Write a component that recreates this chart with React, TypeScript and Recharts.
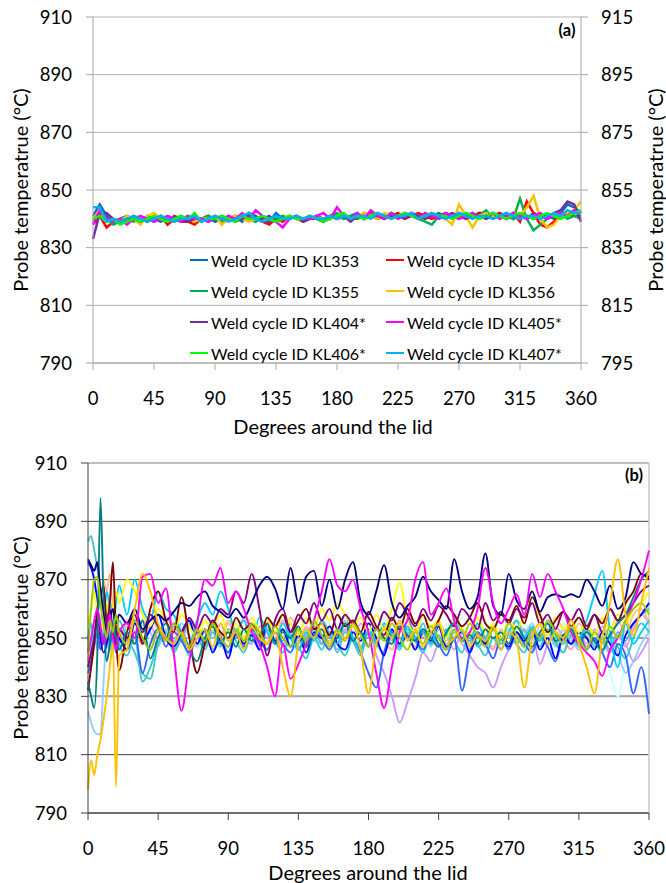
import React from 'react'
import { LineChart, Line, XAxis, YAxis, CartesianGrid, ReferenceLine } from 'recharts'

const FONT = 'Lato, "Open Sans", sans-serif'

// degrees around the lid
const degreesA = [
  0, 5, 10, 15, 20, 25, 30, 35, 40, 45, 50, 55, 60, 65, 70, 75, 80, 85, 90, 95,
  100, 105, 110, 115, 120, 125, 130, 135, 140, 145, 150, 155, 160, 165, 170, 175,
  180, 185, 190, 195, 200, 205, 210, 215, 220, 225, 230, 235, 240, 245, 250, 255,
  260, 265, 270, 275, 280, 285, 290, 295, 300, 305, 310, 315, 320, 325, 330, 335,
  340, 345, 350, 355, 360,
]
const degreesB = [
  0, 2, 4, 6, 8, 10, 12, 14, 16, 18, 20, 25, 30, 35, 40, 45, 50, 55, 60, 65, 70,
  75, 80, 85, 90, 95, 100, 105, 110, 115, 120, 125, 130, 135, 140, 145, 150, 155,
  160, 165, 170, 175, 180, 185, 190, 195, 200, 205, 210, 215, 220, 225, 230, 235,
  240, 245, 250, 255, 260, 265, 270, 275, 280, 285, 290, 295, 300, 305, 310, 315,
  320, 325, 330, 335, 340, 345, 350, 355, 360,
]

const xTicks = [0, 45, 90, 135, 180, 225, 270, 315, 360]
const leftTicks = [790, 810, 830, 850, 870, 890, 910]
const rightTicks = [795, 815, 835, 855, 875, 895, 915]

// panel (a): probe temperature, one value per 5 degrees
const kl353 = [
  841, 845, 841, 839, 840, 841, 840, 839, 841, 840,
  839, 840, 840, 841, 839, 840, 840, 841, 839, 840,
  840, 841, 839, 842, 841, 839, 839, 842, 840, 841,
  840, 839, 840, 841, 840, 841, 841, 840, 841, 842,
  840, 841, 841, 840, 842, 841, 841, 842, 840, 841,
  841, 842, 841, 840, 842, 841, 841, 842, 840, 841,
  842, 841, 840, 841, 840, 842, 841, 841, 840, 842,
  845, 844, 842,
]
const kl354 = [
  838, 841, 837, 839, 840, 839, 841, 840, 839, 840,
  841, 838, 840, 839, 839, 838, 840, 841, 840, 839,
  840, 841, 840, 841, 840, 839, 838, 840, 839, 841,
  840, 840, 841, 840, 839, 841, 840, 841, 840, 840,
  842, 841, 840, 841, 841, 842, 840, 841, 842, 841,
  840, 841, 842, 841, 840, 842, 841, 842, 842, 841,
  842, 840, 842, 839, 846, 842, 838, 837, 839, 841,
  842, 841, 841,
]
const kl355 = [
  839, 842, 840, 838, 839, 840, 839, 840, 840, 839,
  841, 840, 839, 840, 841, 839, 840, 841, 840, 839,
  841, 840, 841, 840, 839, 841, 840, 840, 841, 840,
  841, 840, 840, 841, 840, 841, 842, 840, 841, 840,
  841, 842, 840, 841, 842, 841, 842, 841, 840, 839,
  838, 841, 842, 841, 842, 841, 842, 841, 843, 840,
  841, 842, 840, 847, 840, 836, 838, 840, 841, 842,
  840, 841, 840,
]
const kl356 = [
  840, 843, 839, 840, 839, 841, 840, 838, 841, 842,
  840, 839, 841, 840, 840, 839, 840, 840, 841, 838,
  840, 841, 840, 839, 840, 841, 840, 839, 840, 841,
  840, 839, 841, 840, 840, 841, 840, 841, 840, 841,
  842, 841, 840, 842, 841, 840, 841, 842, 841, 840,
  842, 841, 840, 838, 845, 841, 837, 841, 842, 841,
  841, 840, 842, 841, 844, 848, 840, 837, 838, 841,
  842, 843, 846,
]
const kl404 = [
  833, 842, 842, 840, 839, 840, 840, 839, 840, 840,
  841, 839, 841, 840, 839, 840, 840, 839, 840, 841,
  840, 839, 840, 841, 840, 840, 841, 839, 840, 840,
  841, 839, 840, 840, 839, 841, 840, 841, 839, 841,
  840, 841, 841, 840, 841, 841, 840, 842, 841, 840,
  841, 840, 841, 842, 841, 840, 841, 841, 840, 842,
  841, 840, 841, 840, 841, 840, 841, 840, 842, 843,
  846, 845, 839,
]
const kl405 = [
  838, 843, 840, 839, 840, 838, 840, 841, 840, 839,
  840, 841, 840, 839, 841, 840, 840, 839, 841, 840,
  841, 840, 842, 840, 843, 841, 840, 839, 837, 840,
  841, 840, 840, 841, 842, 840, 844, 841, 840, 842,
  840, 843, 841, 840, 842, 840, 842, 841, 840, 842,
  841, 840, 842, 841, 840, 841, 842, 840, 841, 842,
  840, 841, 842, 841, 840, 841, 842, 840, 841, 842,
  841, 843, 842,
]
const kl406 = [
  840, 841, 839, 840, 838, 839, 840, 839, 840, 841,
  840, 839, 840, 841, 840, 842, 839, 840, 840, 841,
  840, 839, 841, 840, 840, 841, 840, 839, 840, 841,
  840, 840, 841, 840, 839, 840, 841, 842, 840, 841,
  840, 841, 842, 841, 840, 841, 842, 841, 840, 841,
  842, 841, 841, 840, 841, 842, 841, 840, 841, 842,
  841, 840, 841, 842, 841, 840, 841, 842, 841, 840,
  841, 842, 843,
]
const kl407 = [
  844, 844, 839, 840, 839, 840, 841, 840, 839, 840,
  841, 840, 839, 840, 840, 841, 839, 840, 841, 840,
  839, 840, 841, 842, 840, 839, 840, 841, 840, 840,
  841, 840, 841, 840, 840, 841, 840, 841, 840, 841,
  841, 840, 842, 841, 840, 841, 841, 842, 840, 841,
  842, 841, 840, 841, 842, 841, 840, 841, 841, 840,
  841, 842, 841, 840, 841, 841, 840, 841, 842, 841,
  843, 842, 842,
]

// panel (b): all weld cycles
const bNavy = [
  877, 875, 873, 876, 866, 858, 852, 856, 860, 855,
  858, 855, 860, 853, 856, 858, 856, 859, 862, 861,
  864, 866, 861, 859, 857, 860, 857, 862, 868, 871,
  867, 860, 874, 862, 871, 873, 861, 870, 860, 870,
  876, 862, 858, 866, 875, 862, 857, 861, 864, 871,
  866, 863, 860, 877, 866, 860, 864, 879, 861, 858,
  872, 863, 860, 866, 859, 864, 865, 864, 865, 864,
  870, 866, 861, 868, 860, 864, 876, 872, 871,
]
const bMagenta = [
  845, 850, 856, 860, 854, 848, 852, 858, 850, 846,
  852, 855, 850, 871, 872, 862, 867, 845, 825, 842,
  855, 870, 868, 874, 862, 866, 860, 852, 848, 840,
  830, 848, 836, 841, 848, 856, 866, 877, 868, 866,
  870, 860, 852, 838, 826, 840, 852, 856, 870, 876,
  858, 862, 867, 856, 850, 852, 860, 874, 862, 855,
  860, 865, 858, 872, 864, 872, 866, 860, 852, 848,
  845, 842, 837, 846, 850, 856, 862, 870, 880,
]
const bGold = [
  798, 808, 803, 810, 815, 822, 830, 840, 848, 799,
  844, 846, 860, 872, 866, 855, 850, 848, 852, 846,
  850, 853, 847, 855, 849, 852, 846, 854, 850, 848,
  852, 840, 830, 848, 853, 850, 855, 848, 852, 850,
  854, 846, 831, 848, 853, 850, 856, 849, 853, 847,
  852, 855, 848, 850, 853, 847, 851, 849, 854, 846,
  852, 849, 833, 850, 855, 848, 852, 850, 856, 848,
  840, 831, 850, 862, 877, 858, 851, 862, 874,
]
const bTeal = [
  835, 830, 826, 845, 898, 862, 842, 848, 855, 850,
  846, 852, 848, 856, 843, 850, 855, 848, 852, 846,
  842, 850, 854, 848, 852, 847, 853, 849, 851, 855,
  848, 852, 850, 854, 847, 851, 853, 848, 850, 855,
  849, 852, 847, 853, 850, 848, 854, 851, 849, 853,
  850, 847, 852, 855, 849, 851, 848, 853, 850, 852,
  848, 854, 850, 847, 852, 855, 849, 851, 853, 848,
  852, 849, 846, 851, 855, 858, 864, 870, 873,
]
const bAqua = [
  883, 885, 880, 874, 866, 860, 855, 862, 858, 852,
  856, 850, 845, 838, 836, 848, 852, 845, 850, 855,
  848, 852, 846, 850, 845, 852, 848, 854, 850, 846,
  852, 849, 855, 846, 850, 853, 848, 851, 845, 852,
  849, 844, 852, 848, 854, 850, 846, 852, 849, 855,
  848, 851, 846, 853, 849, 852, 847, 850, 854, 846,
  851, 848, 853, 846, 850, 852, 848, 845, 851, 849,
  853, 847, 850, 846, 852, 849, 855, 858, 860,
]
const bBlue = [
  876, 874, 870, 862, 850, 845, 848, 856, 860, 852,
  850, 846, 855, 849, 853, 858, 850, 847, 852, 856,
  848, 853, 845, 850, 843, 852, 848, 851, 846, 855,
  849, 853, 847, 851, 845, 852, 850, 854, 848, 846,
  852, 849, 855, 850, 844, 853, 848, 851, 846, 852,
  849, 854, 847, 850, 852, 845, 851, 848, 853, 850,
  847, 852, 849, 853, 846, 850, 843, 851, 848, 852,
  850, 846, 852, 848, 844, 851, 855, 858, 862,
]
const bDarkRed = [
  832, 840, 848, 860, 864, 868, 855, 862, 876, 850,
  839, 852, 858, 848, 860, 866, 856, 852, 864, 850,
  838, 848, 856, 852, 850, 857, 853, 855, 850, 857,
  854, 858, 852, 856, 860, 853, 855, 851, 858, 854,
  856, 852, 859, 854, 851, 857, 853, 860, 855, 858,
  852, 856, 861, 858, 854, 857, 862, 855, 853, 858,
  856, 861, 855, 864, 858, 852, 856, 859, 854, 857,
  853, 858, 855, 860, 856, 862, 866, 872, 870,
]
const bPurple = [
  840, 845, 850, 856, 852, 848, 855, 860, 852, 848,
  853, 850, 856, 852, 858, 854, 850, 855, 852, 857,
  853, 858, 855, 860, 858, 866, 862, 872, 860, 844,
  856, 860, 852, 858, 855, 862, 856, 860, 853, 858,
  855, 860, 857, 853, 859, 856, 862, 858, 854, 860,
  856, 861, 858, 854, 860, 857, 853, 862, 856, 859,
  855, 860, 857, 862, 855, 858, 853, 859, 856, 860,
  854, 858, 852, 860, 856, 858, 862, 866, 868,
]
const bCyan = [
  850, 855, 848, 858, 862, 855, 866, 860, 852, 862,
  868, 858, 870, 860, 856, 866, 860, 858, 852, 848,
  856, 862, 858, 866, 860, 852, 856, 849, 857, 852,
  848, 855, 850, 846, 852, 849, 856, 851, 848, 855,
  850, 846, 853, 849, 855, 851, 847, 854, 850, 852,
  848, 855, 851, 857, 852, 849, 855, 850, 853, 848,
  852, 856, 850, 854, 849, 855, 851, 848, 853, 850,
  856, 865, 873, 852, 840, 855, 848, 852, 856,
]
const bYellow = [
  855, 860, 866, 858, 852, 856, 862, 854, 860, 866,
  862, 870, 866, 858, 854, 860, 856, 852, 858, 854,
  850, 856, 853, 858, 852, 855, 850, 857, 853, 856,
  852, 858, 855, 851, 857, 853, 860, 856, 862, 858,
  854, 857, 852, 858, 853, 860, 869, 856, 852, 858,
  854, 856, 850, 857, 853, 851, 857, 852, 855, 850,
  856, 853, 858, 866, 855, 851, 857, 853, 856, 852,
  855, 851, 857, 853, 858, 855, 860, 862, 866,
]
const bLightBlue = [
  825, 821, 818, 817, 817, 835, 850, 845, 856, 852,
  848, 854, 850, 856, 852, 847, 853, 849, 855, 851,
  847, 853, 850, 855, 849, 852, 856, 850, 847, 853,
  849, 855, 851, 846, 853, 850, 848, 854, 851, 856,
  850, 847, 853, 849, 855, 851, 848, 854, 850, 852,
  847, 853, 849, 855, 850, 846, 852, 849, 854, 850,
  853, 848, 851, 855, 849, 852, 847, 853, 850, 846,
  852, 848, 854, 850, 845, 838, 842, 848, 852,
]
const bLavender = [
  845, 848, 852, 846, 850, 855, 848, 852, 846, 850,
  853, 849, 855, 850, 846, 852, 849, 854, 850, 847,
  853, 849, 855, 851, 847, 853, 850, 848, 854, 850,
  852, 847, 853, 849, 851, 855, 848, 852, 846, 853,
  850, 847, 853, 844, 838, 830, 821, 828, 836, 845,
  842, 848, 846, 852, 848, 844, 840, 838, 833, 840,
  846, 850, 847, 852, 841, 848, 852, 849, 853, 850,
  847, 852, 849, 845, 850, 848, 842, 845, 850,
]
const bRoyal = [
  838, 842, 848, 852, 846, 850, 855, 848, 852, 845,
  850, 846, 852, 838, 848, 853, 847, 852, 849, 845,
  852, 848, 855, 849, 845, 851, 847, 853, 849, 846,
  852, 848, 845, 851, 847, 854, 850, 846, 852, 858,
  850, 845, 838, 833, 845, 852, 848, 856, 850, 846,
  852, 848, 844, 850, 832, 845, 852, 848, 843, 850,
  846, 852, 848, 845, 851, 847, 842, 850, 848, 852,
  846, 850, 845, 840, 848, 844, 831, 840, 824,
]
const bPeach = [
  840, 845, 852, 858, 864, 870, 866, 872, 860, 855,
  850, 855, 848, 852, 857, 853, 849, 854, 850, 856,
  852, 848, 854, 850, 856, 852, 849, 855, 851, 848,
  854, 850, 857, 852, 848, 855, 851, 849, 853, 850,
  856, 852, 848, 854, 850, 846, 853, 849, 855, 851,
  848, 854, 850, 856, 852, 849, 855, 850, 847, 853,
  850, 856, 852, 848, 854, 851, 857, 853, 849, 855,
  851, 848, 854, 850, 856, 852, 858, 860, 855,
]
const bOlive = [
  845, 860, 870, 871, 862, 855, 850, 856, 852, 858,
  852, 848, 856, 850, 846, 853, 849, 855, 851, 847,
  853, 849, 855, 850, 847, 853, 849, 855, 852, 848,
  854, 850, 847, 853, 849, 856, 851, 847, 853, 849,
  855, 851, 847, 853, 849, 855, 850, 846, 852, 848,
  854, 850, 846, 853, 849, 855, 851, 847, 853, 849,
  855, 851, 847, 853, 850, 856, 852, 848, 854, 850,
  846, 852, 848, 854, 850, 856, 860, 862, 858,
]
const bTurquoise = [
  850, 846, 852, 858, 855, 850, 854, 846, 850, 852,
  848, 844, 850, 835, 840, 848, 852, 846, 850, 844,
  850, 846, 852, 847, 853, 849, 845, 851, 847, 853,
  849, 845, 851, 847, 843, 850, 846, 852, 848, 844,
  850, 846, 852, 848, 845, 851, 847, 853, 849, 845,
  851, 847, 853, 849, 845, 852, 848, 844, 850, 846,
  852, 848, 845, 851, 847, 853, 849, 845, 851, 847,
  853, 849, 845, 851, 847, 843, 850, 855, 852,
]
const bPink = [
  842, 848, 854, 850, 856, 862, 858, 852, 848, 854,
  850, 856, 852, 848, 854, 850, 857, 853, 849, 855,
  851, 847, 853, 849, 855, 851, 857, 853, 849, 854,
  850, 856, 852, 848, 854, 850, 856, 852, 848, 853,
  849, 855, 851, 847, 853, 849, 855, 851, 847, 853,
  849, 855, 851, 846, 852, 848, 854, 850, 846, 852,
  848, 854, 850, 846, 852, 848, 854, 850, 846, 852,
  848, 853, 849, 845, 851, 847, 853, 858, 855,
]
const bPale = [
  848, 852, 856, 850, 854, 858, 852, 848, 854, 850,
  856, 852, 858, 854, 850, 856, 852, 858, 854, 850,
  856, 852, 858, 854, 850, 856, 852, 848, 854, 850,
  856, 852, 848, 854, 850, 856, 860, 855, 851, 857,
  853, 849, 855, 851, 857, 853, 849, 855, 851, 857,
  853, 849, 855, 851, 857, 853, 849, 855, 851, 857,
  853, 849, 855, 851, 847, 853, 849, 855, 851, 847,
  853, 849, 845, 838, 830, 842, 848, 852, 850,
]

const seriesA = [
  { name: 'Weld cycle ID KL353', color: '#0070C0', values: kl353 },
  { name: 'Weld cycle ID KL354', color: '#FF0000', values: kl354 },
  { name: 'Weld cycle ID KL355', color: '#00B050', values: kl355 },
  { name: 'Weld cycle ID KL356', color: '#FFC000', values: kl356 },
  { name: 'Weld cycle ID KL404*', color: '#7030A0', values: kl404 },
  { name: 'Weld cycle ID KL405*', color: '#FF00FF', values: kl405 },
  { name: 'Weld cycle ID KL406*', color: '#00FF00', values: kl406 },
  { name: 'Weld cycle ID KL407*', color: '#00B0F0', values: kl407 },
]

const seriesB = [
  { color: '#CCFFFF', values: bPale },
  { color: '#FF99CC', values: bPink },
  { color: '#F9BF8F', values: bPeach },
  { color: '#99CCFF', values: bLightBlue },
  { color: '#CC99FF', values: bLavender },
  { color: '#33CCCC', values: bTurquoise },
  { color: '#4BC3C8', values: bAqua },
  { color: '#3366FF', values: bRoyal },
  { color: '#0000FF', values: bBlue },
  { color: '#00CCFF', values: bCyan },
  { color: '#FFFF00', values: bYellow },
  { color: '#800000', values: bDarkRed },
  { color: '#800080', values: bPurple },
  { color: '#008080', values: bTeal },
  { color: '#000080', values: bNavy },
  { color: '#FF00FF', values: bMagenta },
  { color: '#99CC00', values: bOlive },
  { color: '#FFC000', values: bGold },
]

function buildRows(xs: number[], series: { values: number[] }[]) {
  return xs.map((deg, i) => {
    const row: Record<string, number> = { deg }
    series.forEach((s, k) => {
      row['s' + k] = s.values[i]
    })
    return row
  })
}

const rowsA = buildRows(degreesA, seriesA)
const rowsB = buildRows(degreesB, seriesB)

const tickStyle = { fill: '#000', fontSize: 18.5, fontFamily: FONT }

const title: React.CSSProperties = {
  position: 'absolute',
  fontFamily: FONT,
  fontSize: 20,
  lineHeight: '22px',
  color: '#000',
  whiteSpace: 'nowrap',
  transform: 'translate(-50%, -50%)',
}
const vTitle: React.CSSProperties = { ...title, transform: 'translate(-50%, -50%) rotate(-90deg)' }
const tag: React.CSSProperties = { ...title, fontSize: 16.5, fontWeight: 700 }

export default function App() {
  return (
    <div style={{ position: 'absolute', left: 0, top: 0, width: 666, height: 883, background: '#fff', fontFamily: FONT }}>
      {/* panel (a) */}
      <div style={{ position: 'absolute', left: 0, top: 0 }}>
        <LineChart width={666} height={440} data={rowsA} margin={{ top: 17, right: 0, bottom: 0, left: 0 }}>
          <CartesianGrid vertical={false} stroke="#b3b3b3" />
          <XAxis
            dataKey="deg"
            type="number"
            domain={[0, 360]}
            ticks={xTicks}
            interval={0}
            height={77}
            tickSize={7}
            tickMargin={22}
            stroke="#a6a6a6"
            tick={tickStyle}
          />
          <YAxis
            domain={[790, 910]}
            ticks={leftTicks}
            interval={0}
            width={93}
            tickSize={7}
            tickMargin={14}
            stroke="#a6a6a6"
            tick={tickStyle}
            allowDataOverflow
          />
          <YAxis
            yAxisId="right"
            orientation="right"
            domain={[795, 915]}
            ticks={rightTicks}
            interval={0}
            width={85}
            tickSize={7}
            tickMargin={13}
            stroke="#a6a6a6"
            tick={tickStyle}
            allowDataOverflow
          />
          {seriesA.map((s, k) => (
            <Line
              key={s.name}
              dataKey={'s' + k}
              name={s.name}
              type="linear"
              stroke={s.color}
              strokeWidth={2.5}
              dot={false}
              activeDot={false}
              isAnimationActive={false}
            />
          ))}
        </LineChart>
      </div>
      <div style={{ ...vTitle, left: 20, top: 190 }}>Probe temperatrue (°C)</div>
      <div style={{ ...vTitle, left: 655, top: 190 }}>Probe temperatrue (°C)</div>
      <div style={{ ...title, left: 333, top: 426 }}>Degrees around the lid</div>
      <div style={{ ...tag, left: 567, top: 30 }}>(a)</div>
      {seriesA.map((s, k) => (
        <div
          key={s.name}
          style={{
            position: 'absolute',
            left: k % 2 === 0 ? 190 : 386,
            top: 250 + Math.floor(k / 2) * 31,
            height: 20,
            display: 'flex',
            alignItems: 'center',
            fontFamily: FONT,
            fontSize: 16,
            color: '#000',
            whiteSpace: 'nowrap',
          }}
        >
          <span style={{ display: 'inline-block', width: 18, borderTop: `2.5px solid ${s.color}`, marginRight: 3 }} />
          <span>{s.name}</span>
        </div>
      ))}

      {/* panel (b) */}
      <div style={{ position: 'absolute', left: 0, top: 440 }}>
        <LineChart width={666} height={443} data={rowsB} margin={{ top: 23, right: 17, bottom: 0, left: 0 }}>
          <CartesianGrid vertical={false} stroke="#404040" />
          <ReferenceLine y={830} stroke="#a6a6a6" strokeWidth={2} />
          <ReferenceLine y={910} stroke="#c8c8c8" strokeWidth={1.5} />
          <ReferenceLine x={360} stroke="#c8c8c8" strokeWidth={1.5} />
          <XAxis
            dataKey="deg"
            type="number"
            domain={[0, 360]}
            ticks={xTicks}
            interval={0}
            height={70}
            tickSize={7}
            tickMargin={22}
            stroke="#404040"
            tick={tickStyle}
          />
          <YAxis
            domain={[790, 910]}
            ticks={leftTicks}
            interval={0}
            width={88}
            tickSize={7}
            tickMargin={14}
            stroke="#404040"
            tick={tickStyle}
            allowDataOverflow
          />
          {seriesB.map((s, k) => (
            <Line
              key={'b' + k}
              dataKey={'s' + k}
              type="monotone"
              stroke={s.color}
              strokeWidth={1.9}
              dot={false}
              activeDot={false}
              isAnimationActive={false}
            />
          ))}
        </LineChart>
      </div>
      <div style={{ ...vTitle, left: 20, top: 638 }}>Probe temperatrue (°C)</div>
      <div style={{ ...title, left: 368, top: 872 }}>Degrees around the lid</div>
      <div style={{ ...tag, left: 634, top: 475 }}>(b)</div>
    </div>
  )
}
